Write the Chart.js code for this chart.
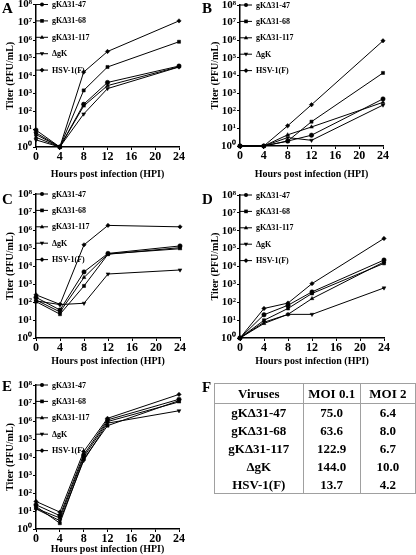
<!DOCTYPE html>
<html>
<head>
<meta charset="utf-8">
<script src="https://cdn.jsdelivr.net/npm/chart.js@4.4.0/dist/chart.umd.min.js"></script>
<style>
  html, body { margin: 0; padding: 0; background: #fff; }
  body { width: 416px; height: 555px; position: relative; overflow: hidden; font-family: 'Liberation Serif', 'Times New Roman', serif; }
  canvas.panel { position: absolute; }
  .letter { position: absolute; font-weight: bold; font-size: 15px; line-height: 1; color: #000; }
  #tableF { position: absolute; left: 214px; top: 383px; border-collapse: collapse; border: 1.5px solid #a0a0a0; font-weight: bold; font-size: 13px; }
  #tableF td, #tableF th { border-left: 1px solid #a0a0a0; border-right: 1px solid #a0a0a0; padding: 0; text-align: center; height: 17.8px; line-height: 17px; }
  #tableF th { height: 19px; border-bottom: 1px solid #a0a0a0; font-weight: bold; }
</style>
</head>
<body>
<canvas id="chartA" class="panel" width="208" height="185" style="left:0;top:0"></canvas>
<canvas id="chartB" class="panel" width="208" height="185" style="left:208px;top:0"></canvas>
<canvas id="chartC" class="panel" width="208" height="185" style="left:0;top:185px"></canvas>
<canvas id="chartD" class="panel" width="208" height="185" style="left:208px;top:185px"></canvas>
<canvas id="chartE" class="panel" width="208" height="185" style="left:0;top:370px"></canvas>
<div class="letter" style="left:2px;top:1px">A</div>
<div class="letter" style="left:202px;top:1px">B</div>
<div class="letter" style="left:2px;top:192px">C</div>
<div class="letter" style="left:202px;top:192px">D</div>
<div class="letter" style="left:2px;top:379px">E</div>
<div class="letter" style="left:202px;top:380px">F</div>
<table id="tableF"></table>
<script>
// data
const hours = [0, 4, 8, 12, 24];
const xTicks = [0, 4, 8, 12, 16, 20, 24];
const yTicks = [1, 1e1, 1e2, 1e3, 1e4, 1e5, 1e6, 1e7, 1e8];
const viruses = ['gKΔ31-47', 'gKΔ31-68', 'gKΔ31-117', 'ΔgK', 'HSV-1(F)'];

// titers per virus (same order as viruses), PFU/mL
const titersA = [
    [8.9, 1, 250, 4200, 3.5e4],
    [5.0, 1, 1500, 3.1e4, 8.1e5],
    [3.5, 1, 200, 2800, 3.2e4],
    [2.5, 1, 71, 1900, 3.1e4],
    [6.3, 1, 1.6e4, 2.3e5, 1.2e7]
];
const titersB = [
    [1, 1, 1.9, 4.1, 470],
    [1, 1, 1.9, 24, 1.4e4],
    [1, 1, 4.3, 12, 300],
    [1, 1, 3.0, 2.1, 210],
    [1, 1, 14, 220, 9.3e5]
];
const titersC = [
    [180, 36, 4700, 5.0e4, 1.3e5],
    [105, 21, 780, 4.5e4, 1.05e5],
    [130, 28, 2300, 4.7e4, 9.1e4],
    [115, 72, 85, 3600, 6000],
    [250, 74, 1.5e5, 1.8e6, 1.5e6]
];
const titersD = [
    [1, 20, 68, 380, 2.3e4],
    [1, 9.8, 45, 310, 1.5e4],
    [1, 6.5, 21, 160, 1.8e4],
    [1, 7.6, 21, 21, 630],
    [1, 45, 90, 1100, 3.7e5]
];
const titersE = [
    [22, 5.5, 1.3e4, 1.15e6, 1.6e7],
    [18, 2.1, 7600, 5.5e5, 1.35e7],
    [14, 4.1, 9800, 9.3e5, 1.15e7],
    [13, 2.9, 6300, 7.6e5, 3.7e6],
    [34, 8.7, 2.0e4, 1.4e6, 3.0e7]
];

// table F
const tableHead = ['Viruses', 'MOI 0.1', 'MOI 2'];
const moi01 = ['75.0', '63.6', '122.9', '144.0', '13.7'];
const moi2 = ['6.4', '8.0', '6.7', '10.0', '4.2'];

// marker style per virus
const markers = ['circle', 'rect', 'triangle', 'triangle', 'rectRot'];
const rotations = [0, 0, 0, 180, 0];

const SERIF = "'Liberation Serif', 'Times New Roman', serif";
const sup = ['⁰', '¹', '²', '³', '⁴', '⁵', '⁶', '⁷', '⁸'];

function drawMarker(ctx, style, rot, x, y, r) {
    ctx.save();
    ctx.translate(x, y);
    ctx.rotate(rot * Math.PI / 180);
    ctx.beginPath();
    if (style === 'circle') {
        ctx.arc(0, 0, r, 0, Math.PI * 2);
    } else if (style === 'rect') {
        ctx.rect(-r * 0.9, -r * 0.9, r * 1.8, r * 1.8);
    } else if (style === 'triangle') {
        ctx.moveTo(0, -r * 1.2);
        ctx.lineTo(r * 1.1, r * 0.7);
        ctx.lineTo(-r * 1.1, r * 0.7);
        ctx.closePath();
    } else {
        ctx.moveTo(0, -r * 1.2);
        ctx.lineTo(r * 1.2, 0);
        ctx.lineTo(0, r * 1.2);
        ctx.lineTo(-r * 1.2, 0);
        ctx.closePath();
    }
    ctx.fill();
    ctx.restore();
}

// legend drawn inside the plot, top-left, like the original
const insideLegend = {
    id: 'insideLegend',
    afterDatasetsDraw(chart) {
        const { ctx, chartArea } = chart;
        ctx.save();
        chart.data.datasets.forEach((ds, i) => {
            const y = chartArea.top + i * 16.4;
            const x0 = chartArea.left;
            ctx.strokeStyle = '#000';
            ctx.fillStyle = '#000';
            ctx.lineWidth = 1;
            ctx.beginPath();
            ctx.moveTo(x0, y);
            ctx.lineTo(x0 + 12, y);
            ctx.stroke();
            drawMarker(ctx, ds.pointStyle, ds.pointRotation, x0 + 6, y, 2);
            ctx.font = 'bold 8px ' + SERIF;
            ctx.textBaseline = 'middle';
            ctx.textAlign = 'left';
            ctx.fillText(ds.label, x0 + 16, y + 0.5);
        });
        ctx.restore();
    }
};

function makePanel(id, titers, g) {
    const datasets = viruses.map((name, i) => ({
        label: name,
        data: hours.map((h, j) => ({ x: h, y: titers[i][j] })),
        borderColor: '#000',
        backgroundColor: '#000',
        borderWidth: 1,
        pointStyle: markers[i],
        pointRotation: rotations[i],
        pointRadius: 2.2,
        pointBorderWidth: 0.5,
        clip: false,
        tension: 0
    }));

    new Chart(document.getElementById(id), {
        type: 'line',
        data: { datasets },
        plugins: [insideLegend],
        options: {
            responsive: false,
            animation: false,
            devicePixelRatio: 1,
            events: [],
            layout: { padding: { left: 0, top: g.top, right: 208 - g.right, bottom: 0 } },
            plugins: { legend: { display: false }, tooltip: { enabled: false } },
            scales: {
                x: {
                    type: 'linear',
                    min: 0,
                    max: 24,
                    afterBuildTicks: s => { s.ticks = xTicks.map(v => ({ value: v })); },
                    afterFit: s => { s.height = 185 - g.bottom; s.paddingLeft = 0; s.paddingRight = 0; },
                    border: { display: true, color: '#000', width: 1.5 },
                    grid: { display: true, drawOnChartArea: false, drawTicks: true, tickLength: 3, color: '#000' },
                    ticks: { color: '#000', padding: 0, maxRotation: 0, autoSkip: false, font: { family: SERIF, size: 12, weight: 'bold' } },
                    title: { display: true, text: 'Hours post infection (HPI)', color: '#000', padding: { top: 0, bottom: g.titlePad }, font: { family: SERIF, size: 10, weight: 'bold' } }
                },
                y: {
                    type: 'logarithmic',
                    min: 1,
                    max: 1e8,
                    afterBuildTicks: s => { s.ticks = yTicks.map(v => ({ value: v })); },
                    afterFit: s => { s.width = g.left; s.paddingTop = 0; s.paddingBottom = 0; },
                    border: { display: true, color: '#000', width: 1.5 },
                    grid: { display: true, drawOnChartArea: false, drawTicks: true, tickLength: 3, color: '#000' },
                    ticks: {
                        color: '#000', padding: 1, autoSkip: false,
                        font: { family: SERIF, size: 11, weight: 'bold' },
                        callback: v => '10' + sup[Math.round(Math.log10(v))]
                    },
                    title: { display: true, text: 'Titer (PFU/mL)', color: '#000', padding: { top: g.yTitlePad, bottom: 0 }, font: { family: SERIF, size: 10, weight: 'bold' } }
                }
            }
        }
    });
}

makePanel('chartA', titersA, { left: 36, top: 4, right: 179, bottom: 147, titlePad: 5, yTitlePad: 4 });
makePanel('chartB', titersB, { left: 32, top: 5, right: 175, bottom: 146, titlePad: 5, yTitlePad: 1 });
makePanel('chartC', titersC, { left: 36, top: 9, right: 180, bottom: 153, titlePad: 2.5, yTitlePad: 4 });
makePanel('chartD', titersD, { left: 32, top: 10, right: 176, bottom: 153, titlePad: 2.5, yTitlePad: 1 });
makePanel('chartE', titersE, { left: 36, top: 15, right: 179, bottom: 159, titlePad: 0, yTitlePad: 4 });

// table F
const table = document.getElementById('tableF');
const colW = [89, 57, 55];
let html = '<tr>' + tableHead.map((h, i) => `<th style="width:${colW[i]}px">${h}</th>`).join('') + '</tr>';
viruses.forEach((v, i) => {
    html += `<tr><td>${v}</td><td>${moi01[i]}</td><td>${moi2[i]}</td></tr>`;
});
table.innerHTML = html;
</script>
</body>
</html>
